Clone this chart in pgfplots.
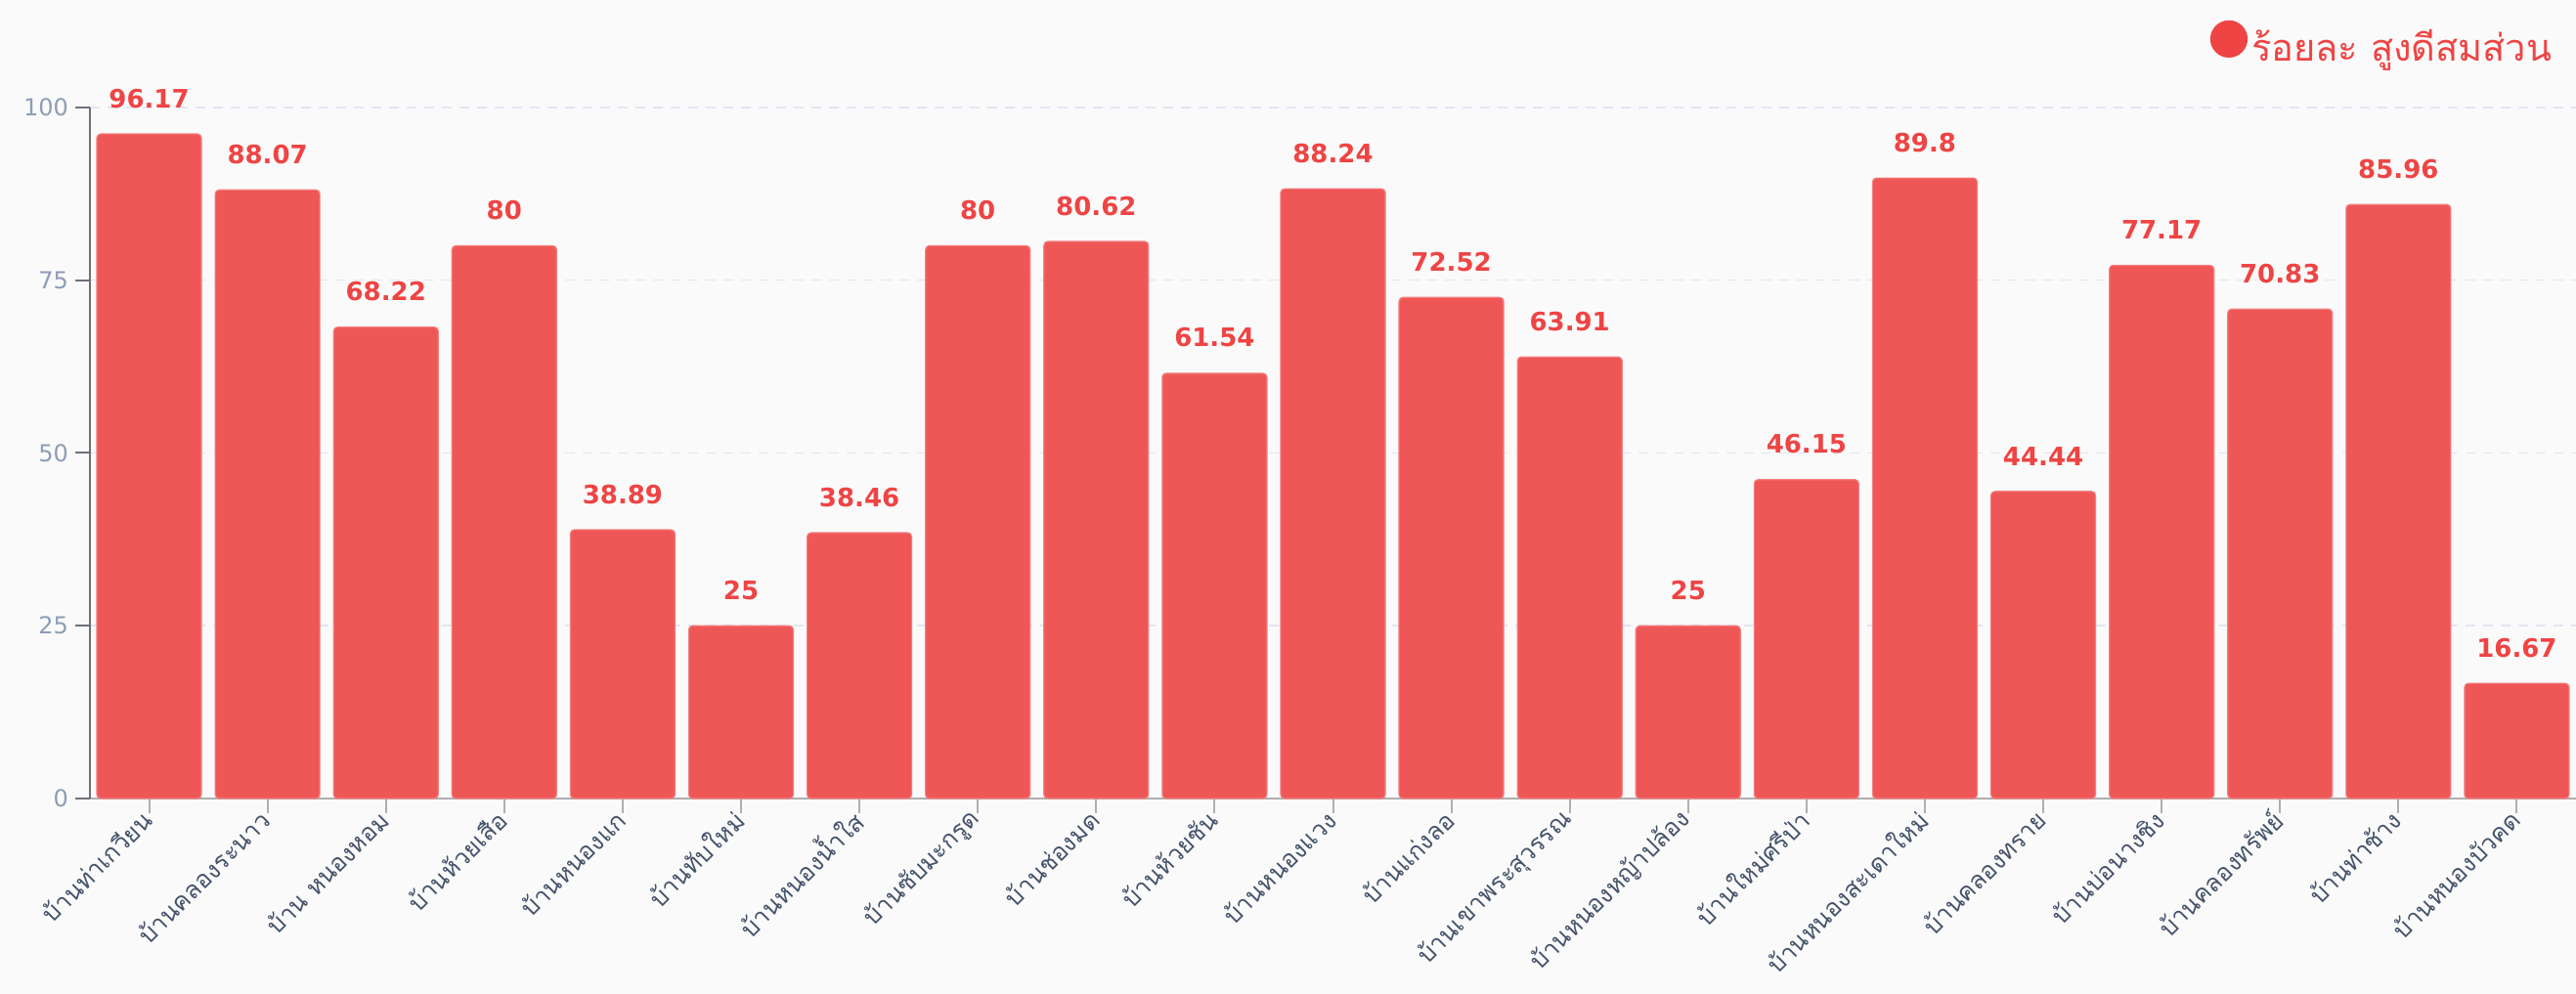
\documentclass[border=0pt]{standalone}
\usepackage{pgfplots}
\pgfplotsset{compat=1.18}
\usepackage{pgfplotstable}
\usepackage{fontspec}
\setmainfont{DejaVu Sans}
\newfontfamily\thaifont[Script=Thai]{Loma}
\definecolor{bg}{RGB}{250,250,250}
\definecolor{barc}{RGB}{239,87,87}
\definecolor{barl}{RGB}{243,125,125}
\definecolor{lab}{RGB}{239,68,68}
\definecolor{ytl}{RGB}{141,157,181}
\definecolor{xtl}{RGB}{70,84,107}
\definecolor{gridc}{RGB}{224,230,241}
\definecolor{yax}{RGB}{110,112,121}
\definecolor{xax}{RGB}{175,175,175}

\pgfplotstableread{
x y
0 96.17
1 88.07
2 68.22
3 80
4 38.89
5 25
6 38.46
7 80
8 80.62
9 61.54
10 88.24
11 72.52
12 63.91
13 25
14 46.15
15 89.8
16 44.44
17 77.17
18 70.83
19 85.96
20 16.67
}\data

\begin{document}
\begin{tikzpicture}
\path[use as bounding box] (0,0) rectangle (1317.5pt,508.5pt);
\fill[bg] (0,0) rectangle (1317.5pt,508.5pt);
\begin{axis}[
  at={(46pt,100pt)}, anchor=south west,
  scale only axis, width=1271.5pt, height=353.5pt,
  xmin=-0.5, xmax=20.5, ymin=0, ymax=100,
  enlargelimits=false, clip=false,
  axis x line*=bottom, axis y line*=left,
  x axis line style={draw=xax, line width=1pt, -},
  y axis line style={draw=yax, line width=1pt, -},
  tick align=outside, major tick length=7.5pt,
  xtick={0,...,20},
  xtick style={draw=xax, line width=1pt},
  ytick={0,25,50,75,100},
  ytick style={draw=yax, line width=1pt},
  ymajorgrids,
  major grid style={draw=gridc, line width=0.75pt, dash pattern=on 5pt off 4pt},
  /pgf/number format/assume math mode=true,
  yticklabel style={text=ytl, font=\fontsize{12}{14}\selectfont},
  xticklabels={บ้านท่าเกวียน,บ้านคลองระนาว,บ้าน หนองหอม,บ้านห้วยเสือ,บ้านหนองแก,บ้านทับใหม่,บ้านหนองน้ำใส,บ้านซับมะกรูด,บ้านช่องมด,บ้านห้วยชัน,บ้านหนองแวง,บ้านแก่งลอ,บ้านเขาพระสุวรรณ,บ้านหนองหญ้าปล้อง,บ้านใหม่ศรีป่า,บ้านหนองสะเดาใหม่,บ้านคลองทราย,บ้านบ่อนางชิง,บ้านคลองทรัพย์,บ้านท่าช้าง,บ้านหนองบัวคด},
  xticklabel style={rotate=45, anchor=east, text=xtl, font=\thaifont\fontsize{12.5}{14}\selectfont, xshift=2pt},
  legend style={at={(0.992,1.092)}, anchor=east, draw=none, fill=none, inner sep=0pt,
    font=\thaifont\fontsize{19}{22}\selectfont, text=lab,
    /tikz/every even column/.append style={column sep=2pt}},
  legend image code/.code={\fill[lab] (9.25pt,0.7ex) circle (9.25pt);},
]
\addplot[ybar, bar width=53.5pt, fill=barc, draw=barl, line width=0.6pt,
  rounded corners=2pt,
  nodes near coords, point meta=explicit symbolic,
  nodes near coords style={font=\bfseries\fontsize{13}{15}\selectfont, text=lab, anchor=south, inner sep=0pt, yshift=13pt}]
  table[x=x, y=y, meta=y]{\data};
\addlegendentry{ร้อยละ สูงดีสมส่วน}
\end{axis}
\end{tikzpicture}
\end{document}
